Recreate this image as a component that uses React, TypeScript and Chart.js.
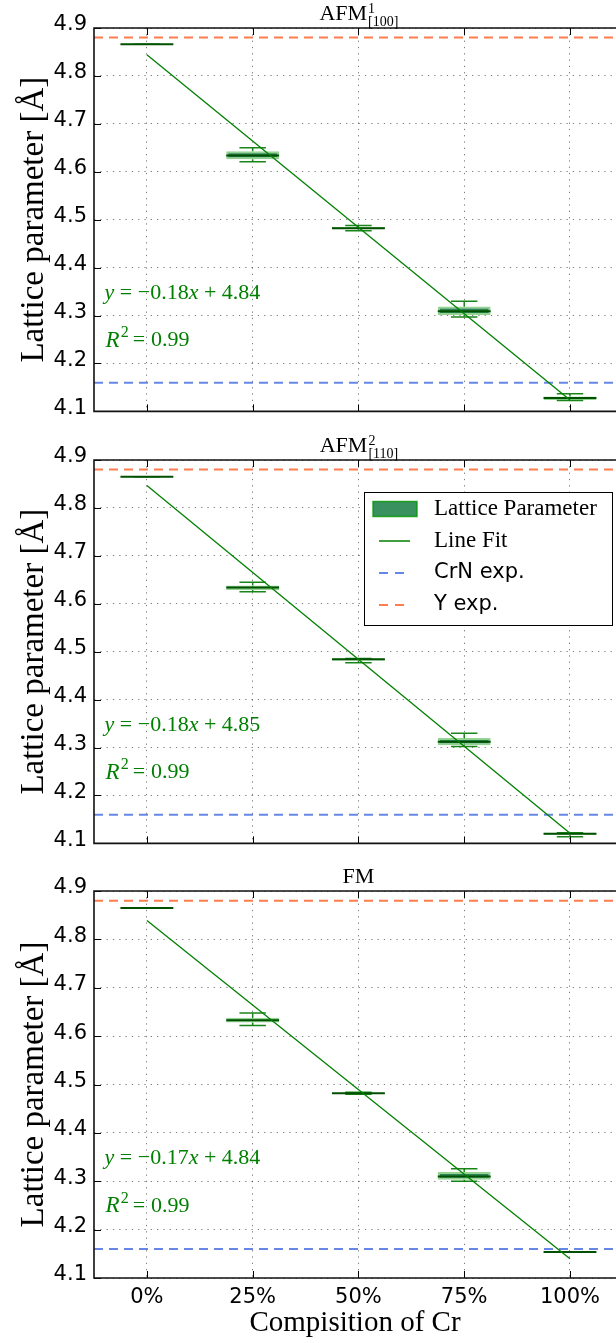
import React, { useEffect, useRef } from 'react';
import { Chart, registerables } from 'chart.js';

Chart.register(...registerables);

// Compositions of Cr along the x axis
const compositionLabels = ['0%', '25%', '50%', '75%', '100%'];
const compositionPositions = [0, 1, 2, 3, 4];
const latticeTicks = [4.1, 4.2, 4.3, 4.4, 4.5, 4.6, 4.7, 4.8, 4.9];

// AFM^1 [100]: box statistics of the lattice parameter (Å)
const afm100Low = [4.866, 4.621, 4.477, 4.297, 4.123];
const afm100Q1 = [4.866, 4.626, 4.480, 4.301, 4.124];
const afm100Median = [4.866, 4.634, 4.482, 4.309, 4.128];
const afm100Q3 = [4.866, 4.643, 4.485, 4.319, 4.131];
const afm100High = [4.866, 4.650, 4.488, 4.330, 4.137];
const afm100Fit = { slope: -0.1801, intercept: 4.844, r2: 0.99 };

// AFM^2 [110]
const afm110Low = [4.865, 4.625, 4.477, 4.302, 4.114];
const afm110Q1 = [4.865, 4.629, 4.481, 4.305, 4.118];
const afm110Median = [4.865, 4.634, 4.484, 4.312, 4.120];
const afm110Q3 = [4.865, 4.638, 4.486, 4.320, 4.122];
const afm110High = [4.865, 4.645, 4.486, 4.330, 4.122];
const afm110Fit = { slope: -0.1815, intercept: 4.847, r2: 0.99 };

// FM
const fmLow = [4.865, 4.622, 4.480, 4.300, 4.154];
const fmQ1 = [4.865, 4.628, 4.481, 4.303, 4.154];
const fmMedian = [4.865, 4.633, 4.482, 4.310, 4.154];
const fmQ3 = [4.865, 4.638, 4.483, 4.319, 4.154];
const fmHigh = [4.865, 4.648, 4.484, 4.326, 4.154];
const fmFit = { slope: -0.1748, intercept: 4.839, r2: 0.99 };

// Experimental references (Å)
const crnExp = 4.16;
const yExp = 4.88;

// Axis limits
const X_MIN = -0.5;
const X_MAX = 4.435;
const Y_MIN = 4.1;
const Y_MAX = 4.9;

type Fit = { slope: number; intercept: number; r2: number };
type PanelData = {
  name: string;
  sup?: string;
  sub?: string;
  low: number[];
  q1: number[];
  median: number[];
  q3: number[];
  high: number[];
  fit: Fit;
};

const panels: PanelData[] = [
  { name: 'AFM', sup: '1', sub: '[100]', low: afm100Low, q1: afm100Q1, median: afm100Median, q3: afm100Q3, high: afm100High, fit: afm100Fit },
  { name: 'AFM', sup: '2', sub: '[110]', low: afm110Low, q1: afm110Q1, median: afm110Median, q3: afm110Q3, high: afm110High, fit: afm110Fit },
  { name: 'FM', low: fmLow, q1: fmQ1, median: fmMedian, q3: fmQ3, high: fmHigh, fit: fmFit },
];

const SERIF = '"Liberation Serif", "DejaVu Serif", serif';
const SANS = '"DejaVu Sans", sans-serif';
const GREEN = '#008000';
const BOX_FILL = 'rgba(38,128,76,0.97)';
const BOX_EDGE = 'rgba(40,170,40,0.5)';
const MEDIAN = '#005000';
const CRN_COLOR = 'rgba(65,105,225,0.8)';
const Y_COLOR = 'rgba(255,69,0,0.7)';
const BOX_HALF = 0.25;
const CAP_HALF = 0.125;

type Run = { text: string; font: string; dy?: number; gap?: number };

function drawRuns(ctx: CanvasRenderingContext2D, runs: Run[], x: number, y: number) {
  let cx = x;
  runs.forEach((r) => {
    ctx.font = r.font;
    ctx.fillText(r.text, cx, y + (r.dy || 0));
    cx += ctx.measureText(r.text).width + (r.gap || 0);
  });
}

function signed(v: number) {
  return (v < 0 ? '−' : '') + Math.abs(v).toFixed(2);
}

function makeOverlay(panel: PanelData, showLegend: boolean) {
  return {
    id: 'panelOverlay',
    afterDraw(chart: any) {
      const { ctx, chartArea: a, scales } = chart;
      const xs = scales.x;
      const ys = scales.y;
      ctx.save();

      // inward tick marks
      ctx.strokeStyle = '#000';
      ctx.lineWidth = 1;
      ctx.beginPath();
      compositionPositions.forEach((v) => {
        const px = Math.round(xs.getPixelForValue(v)) + 0.5;
        ctx.moveTo(px, a.top);
        ctx.lineTo(px, a.top + 7);
        ctx.moveTo(px, a.bottom);
        ctx.lineTo(px, a.bottom - 7);
      });
      latticeTicks.forEach((v) => {
        const py = Math.round(ys.getPixelForValue(v)) + 0.5;
        ctx.moveTo(a.left, py);
        ctx.lineTo(a.left + 7, py);
      });
      ctx.stroke();

      // axes frame (left, top, bottom)
      ctx.strokeStyle = '#111';
      ctx.lineWidth = 1.6;
      ctx.beginPath();
      ctx.moveTo(a.right + 2, a.top);
      ctx.lineTo(a.left, a.top);
      ctx.lineTo(a.left, a.bottom);
      ctx.lineTo(a.right + 2, a.bottom);
      ctx.stroke();

      // panel title
      const cx = xs.getPixelForValue(compositionPositions[2]);
      ctx.fillStyle = '#000';
      ctx.textBaseline = 'alphabetic';
      const mainFont = `22px ${SERIF}`;
      const smallFont = `14px ${SERIF}`;
      ctx.font = mainFont;
      const wMain = ctx.measureText(panel.name).width;
      ctx.font = smallFont;
      const wSup = panel.sup ? ctx.measureText(panel.sup).width : 0;
      const wSub = panel.sub ? ctx.measureText(panel.sub).width : 0;
      const total = wMain + Math.max(wSup, wSub);
      const tx = cx - total / 2;
      ctx.font = mainFont;
      ctx.fillText(panel.name, tx, a.top - 8);
      ctx.font = smallFont;
      if (panel.sup) ctx.fillText(panel.sup, tx + wMain + 1, a.top - 15.5);
      if (panel.sub) ctx.fillText(panel.sub, tx + wMain + 1, a.top - 2.5);

      // fit equation and R^2
      ctx.fillStyle = GREEN;
      ctx.textBaseline = 'middle';
      const ex = xs.getPixelForValue(-0.4);
      const it = `italic 22px ${SERIF}`;
      const rm = `22px ${SERIF}`;
      drawRuns(ctx, [
        { text: 'y', font: it },
        { text: ` = ${signed(panel.fit.slope)}`, font: rm },
        { text: 'x', font: it },
        { text: ` + ${panel.fit.intercept.toFixed(2)}`, font: rm },
      ], ex, ys.getPixelForValue(4.347));
      drawRuns(ctx, [
        { text: 'R', font: `italic 23px ${SERIF}`, gap: 1 },
        { text: '2', font: `16px ${SERIF}`, dy: -8, gap: 4 },
        { text: '=', font: rm, gap: 6 },
        { text: panel.fit.r2.toFixed(2), font: rm },
      ], ex + 1, ys.getPixelForValue(4.248));

      // legend
      if (showLegend) {
        const L = a.right - 252;
        const R = a.right - 4;
        const T = a.top + 32;
        const B = a.top + 165;
        ctx.fillStyle = '#fff';
        ctx.fillRect(L, T, R - L, B - T);
        ctx.strokeStyle = '#000';
        ctx.lineWidth = 1;
        ctx.strokeRect(L + 0.5, T + 0.5, R - L, B - T);
        const rows = [T + 17, T + 49, T + 81, T + 113];
        // box patch
        ctx.fillStyle = 'rgba(46,139,87,0.95)';
        ctx.fillRect(L + 9, rows[0] - 7.5, 44, 15);
        ctx.strokeStyle = 'rgba(0,150,0,0.8)';
        ctx.lineWidth = 1.5;
        ctx.strokeRect(L + 9, rows[0] - 7.5, 44, 15);
        // fit line
        ctx.strokeStyle = GREEN;
        ctx.lineWidth = 1.5;
        ctx.beginPath();
        ctx.moveTo(L + 15, rows[1]);
        ctx.lineTo(L + 46, rows[1]);
        ctx.stroke();
        // dashed references
        ctx.lineWidth = 2;
        ctx.setLineDash([9, 7]);
        ctx.strokeStyle = CRN_COLOR;
        ctx.beginPath();
        ctx.moveTo(L + 15, rows[2]);
        ctx.lineTo(L + 43, rows[2]);
        ctx.stroke();
        ctx.strokeStyle = Y_COLOR;
        ctx.beginPath();
        ctx.moveTo(L + 15, rows[3]);
        ctx.lineTo(L + 43, rows[3]);
        ctx.stroke();
        ctx.setLineDash([]);
        ctx.fillStyle = '#000';
        ctx.textBaseline = 'middle';
        ctx.font = `23px ${SERIF}`;
        ctx.fillText('Lattice Parameter', L + 70, rows[0]);
        ctx.fillText('Line Fit', L + 70, rows[1]);
        ctx.font = `21px ${SANS}`;
        ctx.fillText('CrN exp.', L + 70, rows[2]);
        ctx.fillText('Y exp.', L + 70, rows[3]);
      }
      ctx.restore();
    },
  };
}

function PanelChart({ panel, width, height, top, showXAxis, showLegend }: {
  panel: PanelData; width: number; height: number; top: number; showXAxis: boolean; showLegend: boolean;
}) {
  const ref = useRef<HTMLCanvasElement>(null);

  useEffect(() => {
    const canvas = ref.current;
    if (!canvas) return;

    const boxes = compositionPositions.map((x, i) => ({ x, y: [panel.q1[i], panel.q3[i]] }));
    const medians: any[] = [];
    const whiskers: any[] = [];
    compositionPositions.forEach((x, i) => {
      medians.push({ x: x - BOX_HALF, y: panel.median[i] }, { x: x + BOX_HALF, y: panel.median[i] }, { x, y: null });
      whiskers.push(
        { x, y: panel.q3[i] }, { x, y: panel.high[i] }, { x, y: null },
        { x: x - CAP_HALF, y: panel.high[i] }, { x: x + CAP_HALF, y: panel.high[i] }, { x, y: null },
        { x, y: panel.q1[i] }, { x, y: panel.low[i] }, { x, y: null },
        { x: x - CAP_HALF, y: panel.low[i] }, { x: x + CAP_HALF, y: panel.low[i] }, { x, y: null },
      );
    });
    const x0 = compositionPositions[0];
    const x1 = compositionPositions[compositionPositions.length - 1];
    const fitLine = [
      { x: x0, y: panel.fit.slope * x0 + panel.fit.intercept },
      { x: x1, y: panel.fit.slope * x1 + panel.fit.intercept },
    ];

    const gridStyle = { color: 'rgba(0,0,0,0.5)', lineWidth: 1, drawTicks: false, offset: false };
    const chart = new Chart(canvas, {
      type: 'bar',
      data: {
        datasets: [
          {
            type: 'line', label: 'Y exp.', data: [{ x: X_MIN, y: yExp }, { x: X_MAX, y: yExp }],
            borderColor: Y_COLOR, borderWidth: 2, borderDash: [9, 6], pointRadius: 0, order: 6,
          },
          {
            type: 'line', label: 'CrN exp.', data: [{ x: X_MIN, y: crnExp }, { x: X_MAX, y: crnExp }],
            borderColor: CRN_COLOR, borderWidth: 2, borderDash: [9, 6], pointRadius: 0, order: 5,
          },
          {
            type: 'line', label: 'whiskers', data: whiskers, borderColor: 'rgba(0,120,0,0.9)',
            borderWidth: 1.5, pointRadius: 0, spanGaps: false, order: 4,
          },
          {
            type: 'bar', label: 'Lattice Parameter', data: boxes as any, backgroundColor: BOX_FILL,
            borderColor: BOX_EDGE, borderWidth: 2, borderSkipped: false,
            barPercentage: 0.5, categoryPercentage: 1, order: 3,
          },
          {
            type: 'line', label: 'median', data: medians, borderColor: MEDIAN,
            borderWidth: 2, pointRadius: 0, spanGaps: false, order: 2,
          },
          {
            type: 'line', label: 'Line Fit', data: fitLine, borderColor: GREEN,
            borderWidth: 1.3, pointRadius: 0, order: 1,
          },
        ] as any,
      },
      options: {
        animation: false,
        responsive: false,
        maintainAspectRatio: false,
        layout: { padding: { top: 28, right: 0, left: 0, bottom: showXAxis ? 0 : height - 28 - 387 } },
        plugins: { legend: { display: false }, tooltip: { enabled: false }, title: { display: false } },
        scales: {
          x: {
            type: 'linear', min: X_MIN, max: X_MAX, offset: false,
            afterFit: (s: any) => { s.height = showXAxis ? height - 28 - 387 : 0; },
            afterBuildTicks: (s: any) => { s.ticks = compositionPositions.map((value) => ({ value })); },
            ticks: {
              display: showXAxis, autoSkip: false, maxRotation: 0, color: '#000', padding: 7,
              font: { family: SANS, size: 21 },
              callback: (v: any) => compositionLabels[compositionPositions.indexOf(Number(v))] ?? '',
            },
            grid: gridStyle,
            border: { display: false, dash: [1.3, 5] },
            title: {
              display: showXAxis, text: 'Compisition of Cr', color: '#000',
              font: { family: SERIF, size: 29 }, padding: { top: 0, bottom: 2 },
            },
          },
          y: {
            type: 'linear', min: Y_MIN, max: Y_MAX, beginAtZero: false,
            afterFit: (s: any) => { s.width = 94; },
            afterBuildTicks: (s: any) => { s.ticks = latticeTicks.map((value) => ({ value })); },
            ticks: {
              color: '#000', padding: 7, labelOffset: -3,
              font: { family: SANS, size: 21 },
              callback: (v: any) => Number(v).toFixed(1),
            },
            grid: gridStyle,
            border: { display: false, dash: [1.3, 5] },
            title: {
              display: true, text: 'Lattice parameter [Å]', color: '#000',
              font: { family: SERIF, size: 33 }, padding: { top: 15, bottom: 0 },
            },
          },
        },
      } as any,
      plugins: [makeOverlay(panel, showLegend)],
    });
    return () => chart.destroy();
  }, [panel, width, height, showXAxis, showLegend]);

  return (
    <canvas
      ref={ref}
      width={width}
      height={height}
      style={{ position: 'absolute', left: 0, top, width, height, display: 'block' }}
    />
  );
}

export default function App() {
  const tops = [0, 432, 863];
  const heights = [431, 431, 480];
  return (
    <div style={{ position: 'absolute', left: 0, top: 0, width: 616, height: 1343, background: '#fff', overflow: 'hidden' }}>
      {panels.map((p, i) => (
        <PanelChart
          key={i}
          panel={p}
          width={616}
          height={heights[i]}
          top={tops[i]}
          showXAxis={i === 2}
          showLegend={i === 1}
        />
      ))}
    </div>
  );
}
